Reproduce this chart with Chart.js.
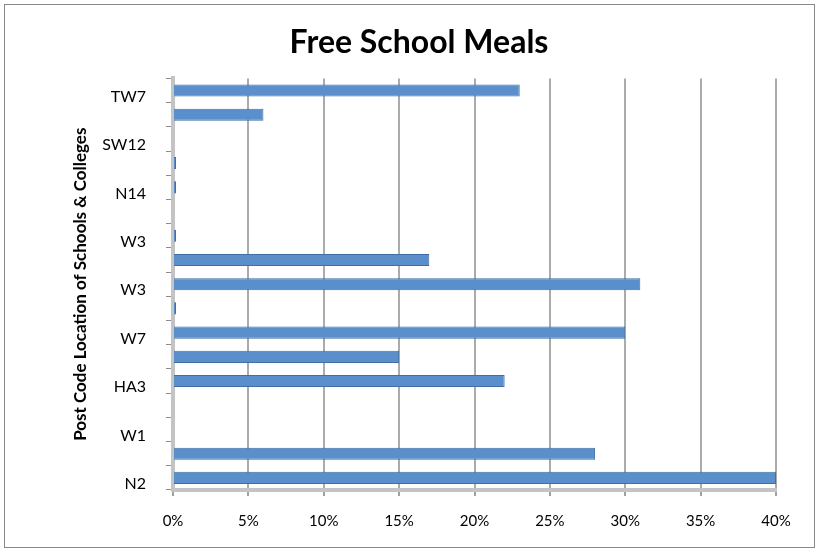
<!DOCTYPE html>
<html>
<head>
<meta charset="utf-8">
<script src="https://cdn.jsdelivr.net/npm/chart.js@4/dist/chart.umd.min.js"></script>
<style>
  html, body { margin: 0; padding: 0; background: #ffffff; }
  #wrap { width: 819px; height: 552px; position: relative; }
</style>
</head>
<body>
<div id="wrap"><canvas id="c" width="819" height="552"></canvas></div>
<script>
// Categories listed bottom to top (as in the picture); blank entries are rows whose label is not shown
const categories = ['N2', '', 'W1', '', 'HA3', '', 'W7', '', 'W3', '', 'W3', '', 'N14', '', 'SW12', '', 'TW7'];
// Free school meals, percent of pupils
const mealsPercent = [40, 28, 0, 0, 22, 15, 30, 0.2, 31, 17, 0.2, 0, 0.2, 0.2, 0, 6, 23];
const xTickValues = [0, 5, 10, 15, 20, 25, 30, 35, 40];
const chartTitle = 'Free School Meals';
const yAxisTitle = 'Post Code Location of Schools & Colleges';

const frame = {
  id: 'frame',
  beforeDraw(chart) {
    const ctx = chart.ctx;
    ctx.save();
    ctx.fillStyle = '#ffffff';
    ctx.fillRect(0, 0, chart.width, chart.height);
    ctx.strokeStyle = '#8a8a8a';
    ctx.lineWidth = 1;
    ctx.strokeRect(4.5, 4.5, 810, 543);
    ctx.restore();
  }
};

new Chart(document.getElementById('c'), {
  type: 'bar',
  data: {
    labels: categories,
    datasets: [{
      label: 'Free School Meals',
      data: mealsPercent,
      backgroundColor: '#5b8fcb',
      borderColor: '#3f6fa4',
      borderWidth: 1,
      borderSkipped: 'left',
      barPercentage: 0.5,
      categoryPercentage: 1.0
    }]
  },
  plugins: [frame],
  options: {
    indexAxis: 'y',
    responsive: false,
    animation: false,
    devicePixelRatio: 1,
    layout: { padding: { left: 62, right: 43, top: 0, bottom: 6 } },
    plugins: {
      legend: { display: false },
      tooltip: { enabled: false },
      title: {
        display: true,
        text: chartTitle,
        color: '#000000',
        font: { family: 'Lato', size: 32, weight: 'bold' },
        padding: { top: 23, bottom: 17 }
      }
    },
    scales: {
      x: {
        type: 'linear',
        min: 0,
        max: 40,
        afterBuildTicks(scale) { scale.ticks = xTickValues.map(v => ({ value: v })); },
        ticks: {
          callback: v => v + '%',
          color: '#000000',
          font: { family: 'Lato', size: 15 },
          padding: 16,
          maxRotation: 0
        },
        grid: { color: '#ababab', lineWidth: 2, tickLength: 6, tickColor: '#a0a0a0', drawTicks: true },
        border: { display: true, color: '#c4c4c4', width: 4 }
      },
      y: {
        type: 'category',
        reverse: true,
        afterFit(scale) { scale.width = 111; },
        ticks: {
          autoSkip: false,
          color: '#000000',
          font: { family: 'Lato', size: 16 },
          padding: 20,
          labelOffset: 6
        },
        grid: { drawOnChartArea: false, drawTicks: true, tickLength: 7, tickColor: '#8c8c8c', offset: true },
        border: { display: true, color: '#c4c4c4', width: 4 },
        title: {
          display: true,
          text: yAxisTitle,
          color: '#000000',
          font: { family: 'Lato', size: 17, weight: 'bold' },
          padding: { top: 8, bottom: 0 }
        }
      }
    }
  }
});
</script>
</body>
</html>
